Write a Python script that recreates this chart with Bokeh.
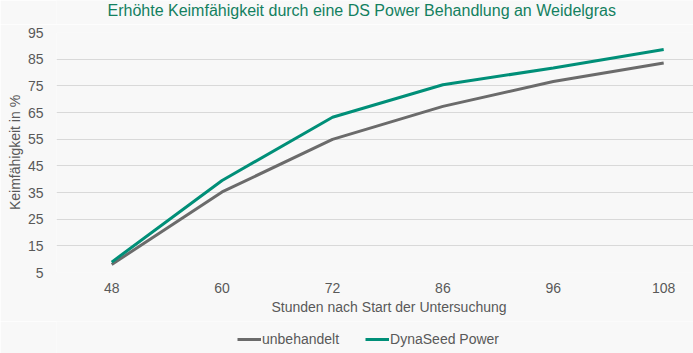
from bokeh.plotting import figure
from bokeh.layouts import column
from bokeh.models import FixedTicker, Legend, LegendItem, Range1d, Title, Label
from bokeh.embed import file_html
from bokeh.resources import INLINE

hours = ["48", "60", "72", "86", "96", "108"]
unbehandelt = [8.0, 35.2, 54.9, 67.3, 76.6, 83.6]
dynaseed = [8.9, 39.5, 63.2, 75.4, 81.7, 88.6]
y_ticks = [5, 15, 25, 35, 45, 55, 65, 75, 85, 95]
series_names = ["unbehandelt", "DynaSeed Power"]
series_colors = ["#6b6b6b", "#008f78"]
title_text = "Erhöhte Keimfähigkeit durch eine DS Power Behandlung an Weidelgras"

FONT = "Liberation Sans"
TXT = "#595959"
BG = "#f8f8f8"

xpos = list(range(len(hours)))
series = [unbehandelt, dynaseed]


def blank(height):
    f = figure(frame_width=637, frame_height=height, x_range=Range1d(0, 1), y_range=Range1d(0, 1),
               output_backend="svg", toolbar_location=None,
               background_fill_color=BG, border_fill_color=BG,
               min_border_left=56, min_border_right=0, min_border_top=0, min_border_bottom=0)
    f.title = None
    f.axis.visible = False
    f.grid.visible = False
    f.outline_line_color = None
    return f


# header with the chart title
f_title = blank(24)
f_title.add_layout(Label(x=51, y=14, x_units="screen", y_units="screen", text=title_text,
                         text_font=FONT, text_font_size="16px", text_color="#13805f",
                         text_baseline="alphabetic", text_align="left"))

# main chart
f_main = figure(frame_width=637, frame_height=240,
                x_range=Range1d(-0.5, 5.27), y_range=Range1d(5, 95),
                output_backend="svg", toolbar_location=None,
                background_fill_color=BG, border_fill_color=BG,
                min_border_left=56, min_border_right=0, min_border_top=8, min_border_bottom=49)
f_main.title = None
f_main.outline_line_color = None

for vals, c in zip(series, series_colors):
    f_main.line(xpos, vals, line_color=c, line_width=3)

f_main.yaxis.ticker = FixedTicker(ticks=y_ticks)
f_main.xaxis.ticker = FixedTicker(ticks=xpos)
f_main.xaxis.major_label_overrides = {i: h for i, h in zip(xpos, hours)}
f_main.yaxis.axis_label = "Keimfähigkeit in %"
for ax in (f_main.xaxis, f_main.yaxis):
    ax.axis_line_color = None
    ax.major_tick_line_color = None
    ax.minor_tick_line_color = None
    ax.major_tick_in = 0
    ax.major_tick_out = 0
    ax.minor_tick_in = 0
    ax.minor_tick_out = 0
    ax.major_label_text_font = FONT
    ax.major_label_text_font_size = "14px"
    ax.major_label_text_color = TXT
    ax.axis_label_text_font = FONT
    ax.axis_label_text_font_size = "14px"
    ax.axis_label_text_color = TXT
    ax.axis_label_text_font_style = "normal"
f_main.xaxis.major_label_standoff = 10
f_main.yaxis.major_label_standoff = 13
f_main.yaxis.axis_label_standoff = 2

xlabel = Title(text="Stunden nach Start der Untersuchung", align="left", offset=215,
               text_font=FONT, text_font_size="14px", text_font_style="normal",
               text_color=TXT, standoff=2)
f_main.add_layout(xlabel, "below")

f_main.xgrid.grid_line_color = None
f_main.ygrid.grid_line_color = "#d9d9d9"
f_main.ygrid.grid_line_width = 1

# legend row (its lines lie outside this row's range, only the legend swatches show)
f_leg = blank(32)
proxies = [f_leg.line(xpos, vals, line_color=c, line_width=3) for vals, c in zip(series, series_colors)]
legend = Legend(items=[LegendItem(label=n, renderers=[r]) for n, r in zip(series_names, proxies)],
                orientation="horizontal", location=(181, 5),
                background_fill_alpha=0, border_line_alpha=0,
                label_text_font=FONT, label_text_font_size="14px", label_text_color=TXT,
                glyph_width=24, glyph_height=18, label_standoff=1, spacing=26,
                margin=0, padding=0)
f_leg.add_layout(legend)

p = column(f_title, f_main, f_leg, spacing=0)

open("out.html", "w").write(file_html(p, INLINE))
